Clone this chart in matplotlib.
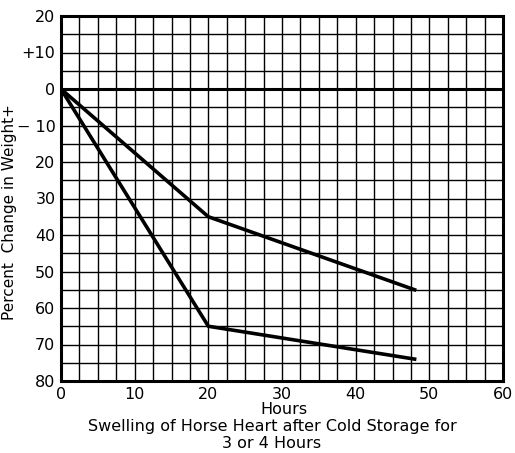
import numpy as np
import matplotlib.pyplot as plt

# weight change of horse heart after cold storage
hours = [0, 20, 48]
storage_3h = [0, -35, -55]
storage_4h = [0, -65, -74]

x_ticks = [0, 10, 20, 30, 40, 50, 60]
y_ticks = [20, 10, 0, -10, -20, -30, -40, -50, -60, -70, -80]
y_labels = ["20", "+10", "0", "\u2212 10", "20", "30", "40", "50", "60", "70", "80"]

plt.rcParams['font.family'] = ['DejaVu Sans']

W, H = 515, 453
fig = plt.figure(figsize=(W / 100, H / 100), dpi=100)
ax = fig.add_axes([61 / W, 72 / H, 442 / W, 365 / H])

# fine grid every 2.5 h and 5 %
for gx in np.arange(0, 60.01, 2.5):
    ax.axvline(gx, color='black', lw=1.0, zorder=1)
for gy in np.arange(-80, 20.01, 5):
    ax.axhline(gy, color='black', lw=1.0, zorder=1)
ax.axhline(0, color='black', lw=2.2, zorder=2)

ax.plot(hours, storage_3h, color='black', lw=2.6, zorder=3)
ax.plot(hours, storage_4h, color='black', lw=2.6, zorder=3)

ax.set_xlim(0, 60)
ax.set_ylim(-80, 20)
ax.set_xticks(x_ticks)
ax.set_yticks(y_ticks)
ax.set_yticklabels(y_labels)
ax.tick_params(length=0, labelsize=11.5, pad=4)

for s in ax.spines.values():
    s.set_linewidth(2.2)

def px(x, y):
    return x / W, 1 - y / H

fig.text(*px(10, 212), "Percent  Change in Weight+", rotation=90,
         ha='center', va='center', fontsize=11)
fig.text(*px(284, 409), "Hours", ha='center', va='center', fontsize=11.5)
fig.text(*px(272, 426), "Swelling of Horse Heart after Cold Storage for",
         ha='center', va='center', fontsize=11.5)
fig.text(*px(272, 443), "3 or 4 Hours", ha='center', va='center', fontsize=11.5)

fig.savefig("out.png", dpi=100)
